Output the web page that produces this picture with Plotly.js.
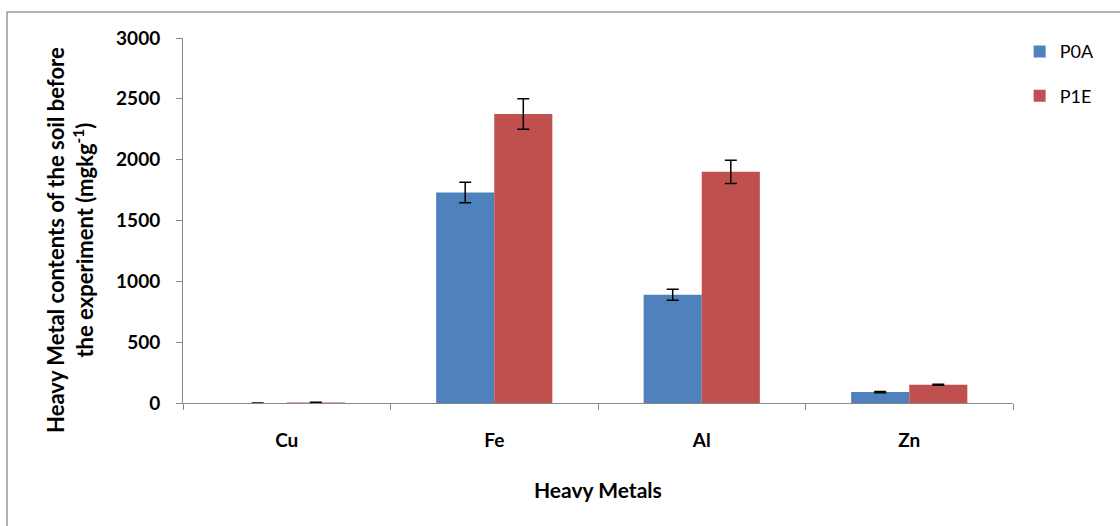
<!DOCTYPE html>
<html><head><meta charset="utf-8">
<script src="https://cdn.plot.ly/plotly-3.0.1.min.js"></script>
<style>html,body{margin:0;padding:0;background:#fff}#c{width:1120px;height:526px}</style>
</head><body><div id="c"></div>
<script>
const categories = ["Cu", "Fe", "Al", "Zn"];
const p0aValues = [1, 1730, 890, 90];
const p0aErrors = [0, 85, 45, 5];
const p1eValues = [4, 2375, 1900, 150];
const p1eErrors = [2, 125, 95, 5];
const yTicks = [0, 500, 1000, 1500, 2000, 2500, 3000];

const FAM = "Lato, 'Open Sans', sans-serif";
const errStyle = {type: "data", visible: true, color: "#000", thickness: 1.5, width: 6};

const traces = [
  {type: "bar", name: "P0A", x: categories, y: p0aValues,
   error_y: Object.assign({array: p0aErrors}, errStyle),
   marker: {color: "#4F81BD"}, legendgroup: "a"},
  {type: "bar", name: "P1E", x: categories, y: p1eValues,
   error_y: Object.assign({array: p1eErrors}, errStyle),
   marker: {color: "#C0504D"}, legendgroup: "b"}
];

const layout = {
  width: 1120, height: 526,
  margin: {l: 183, r: 107, t: 38, b: 123},
  paper_bgcolor: "#fff", plot_bgcolor: "#fff",
  font: {family: FAM, size: 16, color: "#000"},
  barmode: "group", bargap: 0.44, bargroupgap: 0,
  showlegend: true,
  legend: {x: 1.008, y: 1.013, xanchor: "left", yanchor: "top",
           font: {family: FAM, size: 18, color: "#000"},
           tracegroupgap: 18, itemwidth: 30, bgcolor: "rgba(0,0,0,0)"},
  xaxis: {
    showline: true, linecolor: "#888", linewidth: 1,
    ticks: "outside", tickson: "boundaries", ticklen: 6, tickcolor: "#888",
    ticklabelstandoff: 20,
    tickfont: {family: FAM, size: 19, color: "#000", weight: "bold"},
    showgrid: false, zeroline: false
  },
  yaxis: {
    range: [0, 3000], tickvals: yTicks, ticktext: yTicks.map(String),
    showline: true, linecolor: "#888", linewidth: 1,
    ticks: "outside", ticklen: 6, tickcolor: "#888",
    ticklabelstandoff: 12,
    tickfont: {family: FAM, size: 19, color: "#000", weight: "bold"},
    showgrid: false, zeroline: false
  },
  annotations: [{
    xref: "paper", yref: "paper", x: -0.136, y: 0.447,
    xanchor: "center", yanchor: "middle", textangle: -90, showarrow: false,
    align: "center",
    text: "<b>Heavy Metal contents of the soil before<br>the experiment (mgkg<sup>-1</sup>)</b>",
    font: {family: FAM, size: 22, color: "#000", weight: "bold"}
  }, {
    xref: "paper", yref: "paper", x: 0.5, y: -0.238,
    xanchor: "center", yanchor: "middle", showarrow: false,
    text: "<b>Heavy Metals</b>",
    font: {family: FAM, size: 21, color: "#000", weight: "bold"}
  }],
  shapes: [{
    type: "rect", xref: "paper", yref: "paper",
    x0: -0.212, x1: 1.3, y0: -0.5, y1: 1.071,
    line: {color: "#999", width: 1.5}, fillcolor: "rgba(0,0,0,0)", layer: "below"
  }]
};

Plotly.newPlot("c", traces, layout, {displayModeBar: false, staticPlot: true});
</script></body></html>
